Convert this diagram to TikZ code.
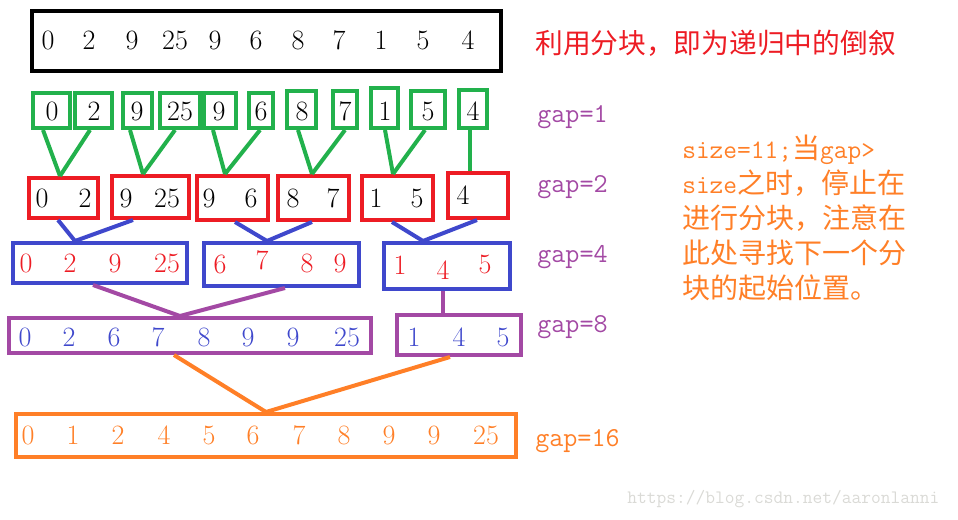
\documentclass[tikz,border=0pt]{standalone}
\usepackage{fontspec}
\newfontfamily\cjk{Noto Sans CJK SC}
\newcommand\asc{\ttfamily}
\usetikzlibrary{fit,calc}
\definecolor{pgreen}{RGB}{34,177,76}
\definecolor{pred}{RGB}{237,28,36}
\definecolor{pblue}{RGB}{63,72,204}
\definecolor{ppurple}{RGB}{163,73,164}
\definecolor{porange}{RGB}{255,127,39}
\definecolor{wmgray}{RGB}{218,218,214}
\begin{document}
\begin{tikzpicture}[x=0.75pt,y=-0.75pt,
  box/.style={draw, line width=3pt, inner sep=0pt, rectangle},
  conn/.style={line width=3pt},
  num/.style={inner sep=0pt, font=\fontsize{21}{25}\selectfont},
  gaplbl/.style={anchor=base west, inner sep=0pt, text=ppurple, font=\asc\fontsize{20.5}{22}\selectfont},
  noteline/.style={anchor=base west, inner sep=0pt, text=porange}]
\useasboundingbox (0,0) rectangle (958,519);

% ---------- top box ----------
\node[box, draw=black, fit={(32,11) (501,71)}] (top) {};
\foreach \i/\x/\t in {1/48/0,2/89/2,3/132/9,4/175/25,5/215/9,6/256/6,7/298/8,8/339/7,9/381/1,10/423/5,11/468/4}
  \node[num] (tn\i) at (\x,40) {\t};

% ---------- gap = 1 (green) ----------
\foreach \i/\xa/\xb/\ya/\xt/\t in {1/33/70/93/52/0, 2/75/112/93/94/2, 3/123/152/93/137/9, 4/160/200/93/180/25,
  5/204/236/93/219/9, 6/249/273/93/261/6, 7/287/316/91/302/8, 8/333/357/91/345/7,
  9/371/398/88/385/1, 10/411/445/91/428/5, 11/459/487/90/473/4}
{
  \node[box, draw=pgreen, fit={(\xa,\ya) (\xb,128)}] (g\i) {};
  \node[num] (gn\i) at (\xt,111) {\t};
}

% ---------- gap = 2 (red) ----------
\foreach \i/\xa/\xb/\ya/\yb in {1/29/98/178/218, 2/112/189/176/218, 3/197/268/176/220,
  4/278/349/176/220, 5/362/433/176/220, 6/448/508/173/218}
  \node[box, draw=pred, fit={(\xa,\ya) (\xb,\yb)}] (r\i) {};
\foreach \i/\x/\t in {1a/42/0, 1b/85/2, 2a/126/9, 2b/167/25, 3a/209/9, 3b/251/6,
  4a/293/8, 4b/333/7, 5a/376/1, 5b/417/5}
  \node[num] (rn\i) at (\x,198) {\t};
\node[num] (rn6a) at (463,195) {4};

% ---------- gap = 4 (blue) ----------
\node[box, draw=pblue, fit={(13,243) (187,283)}] (b1) {};
\node[box, draw=pblue, fit={(204,243) (359,286)}] (b2) {};
\node[box, draw=pblue, fit={(384,243) (510,289)}] (b3) {};
\foreach \i/\x/\y/\t in {1/26/263/0, 2/70/263/2, 3/115/263/9, 4/167/263/25,
  5/220/264/6, 6/262/260/7, 7/307/263/8, 8/340/263/9,
  9/400/265/1, 10/443/270/4, 11/485/264/5}
  \node[num, text=pred] (bn\i) at (\x,\y) {\t};

% ---------- gap = 8 (purple) ----------
\node[box, draw=ppurple, fit={(9,318) (371,353)}] (p1) {};
\node[box, draw=ppurple, fit={(397,315) (521,355)}] (p2) {};
\foreach \i/\x/\t in {1/25/0, 2/69/2, 3/114/6, 4/158/7, 5/204/8, 6/248/9, 7/293/9, 8/347/25,
  9/414/1, 10/459/4, 11/503/5}
  \node[num, text=pblue] (pn\i) at (\x,337) {\t};

% ---------- gap = 16 (orange) ----------
\node[box, draw=porange, fit={(16,414) (516,457)}] (o1) {};
\foreach \i/\x/\t in {1/28/0, 2/73/1, 3/118/2, 4/164/4, 5/209/5, 6/253/6, 7/299/7, 8/344/8, 9/389/9, 10/434/9, 11/486/25}
  \node[num, text=porange] (on\i) at (\x,435) {\t};

% ---------- connectors ----------
\begin{scope}[conn, pgreen]
  \draw ($(g1.south)+(-8.5,0)$) -- ($(r1.north)+(-3.5,0)$);
  \draw ($(g2.south)+(-3.5,0)$) -- ($(r1.north)+(-3.5,0)$);
  \draw ($(g3.south)+(-7.5,0)$) -- ($(r2.north)+(-7.5,0)$);
  \draw ($(g4.south)+(-5,0)$) -- ($(r2.north)+(-7.5,0)$);
  \draw ($(g5.south)+(-7,0)$) -- ($(r3.north)+(-7.5,0)$);
  \draw ($(g6.south)+(-1,0)$) -- ($(r3.north)+(-7.5,0)$);
  \draw ($(g7.south)+(-3.5,0)$) -- ($(r4.north)+(-1.5,0)$);
  \draw ($(g8.south)+(0,0)$) -- ($(r4.north)+(-1.5,0)$);
  \draw ($(g9.south)+(0.5,0)$) -- ($(r5.north)+(-4.5,0)$);
  \draw ($(g10.south)+(-3,0)$) -- ($(r5.north)+(-4.5,0)$);
  \draw ($(g11.south)+(-3,0)$) -- ($(r6.north)+(-8,0)$);
\end{scope}
\begin{scope}[conn, pblue]
  \draw ($(r1.south)+(-5.5,0)$) -- ($(b1.north)+(-25,0)$);
  \draw ($(r2.south)+(-17.5,0)$) -- ($(b1.north)+(-25,0)$);
  \draw ($(r3.south)+(2.5,0)$) -- ($(b2.north)+(-14.5,0)$);
  \draw ($(r4.south)+(-1.5,0)$) -- ($(b2.north)+(-14.5,0)$);
  \draw ($(r5.south)+(-5.5,0)$) -- ($(b3.north)+(-24,0)$);
  \draw ($(r6.south)+(-1,0)$) -- ($(b3.north)+(-24,0)$);
\end{scope}
\begin{scope}[conn, ppurple]
  \draw ($(b1.south)+(-7,0)$) -- ($(p1.north)+(-10,0)$);
  \draw ($(b2.south)+(3.5,0)$) -- ($(p1.north)+(-10,0)$);
  \draw ($(b3.south)+(-4,0)$) -- ($(p2.north)+(-16,0)$);
\end{scope}
\begin{scope}[conn, porange]
  \draw ($(p1.south)+(-16,0)$) -- (o1.north);
  \draw ($(p2.south)+(-9,0)$) -- (o1.north);
\end{scope}

% ---------- labels ----------
\node[anchor=base west, inner sep=0pt, text=pred, font=\cjk\fontsize{20.8}{24}\selectfont] (title) at (535,53) {利用分块，即为递归中的倒叙};

\node[gaplbl] (gap1) at (537,122) {gap=1};
\node[gaplbl] (gap2) at (537,192) {gap=2};
\node[gaplbl] (gap4) at (537,262) {gap=4};
\node[gaplbl] (gap8) at (537,332) {gap=8};
\node[gaplbl, text=porange] (gap16) at (535,446) {gap=16};

\node[noteline] (note1) at (682,158) {{\asc\fontsize{20}{22}\selectfont size=11;}{\cjk\fontsize{21}{24}\selectfont 当}{\asc\fontsize{20}{22}\selectfont gap>}};
\node[noteline] (note2) at (682,193) {{\asc\fontsize{20}{22}\selectfont size}{\cjk\fontsize{21}{24}\selectfont 之时，停止在}};
\node[noteline, font=\cjk\fontsize{21}{24}\selectfont] (note3) at (682,228) {进行分块，注意在};
\node[noteline, font=\cjk\fontsize{21}{24}\selectfont] (note4) at (682,263) {此处寻找下一个分};
\node[noteline, font=\cjk\fontsize{21}{24}\selectfont] (note5) at (682,298) {块的起始位置。};

\node[anchor=base west, inner sep=0pt, text=wmgray, font=\asc\fontsize{14.2}{16}\selectfont] (wm) at (627,503) {https://blog.csdn.net/aaronlanni};
\end{tikzpicture}
\end{document}
